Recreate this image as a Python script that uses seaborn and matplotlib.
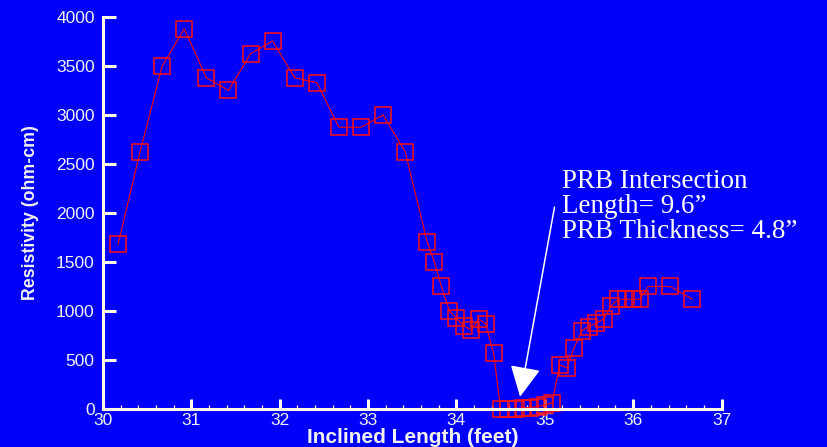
import numpy as np
import pandas as pd
import seaborn as sns
import matplotlib.pyplot as plt
from matplotlib.ticker import MultipleLocator

# Données
length_ft = [30.17, 30.42, 30.67, 30.92, 31.17, 31.42, 31.67, 31.92, 32.17, 32.42,
             32.67, 32.92, 33.17, 33.42, 33.67, 33.75, 33.83, 33.92, 34.00, 34.08,
             34.17, 34.25, 34.33, 34.42, 34.50, 34.58, 34.67, 34.75, 34.83, 34.92,
             35.00, 35.08, 35.17, 35.25, 35.33, 35.42, 35.50, 35.58, 35.67, 35.75,
             35.83, 35.92, 36.00, 36.08, 36.17, 36.42, 36.67]
resistivity = [1680, 2625, 3500, 3880, 3380, 3250, 3625, 3755, 3380, 3330,
               2875, 2875, 3000, 2625, 1700, 1500, 1250, 1000, 925, 850,
               805, 920, 870, 570, 5, 5, 5, 10, 15, 25,
               40, 60, 450, 420, 620, 800, 840, 875, 920, 1050,
               1120, 1120, 1120, 1120, 1250, 1250, 1120]

annot_text = "PRB Intersection\nLength= 9.6\u201d\nPRB Thickness= 4.8\u201d"

df = pd.DataFrame({'Length': length_ft, 'Resistivity': resistivity})

bg = '#0000fa'
axis_col = '#fffbe6'
txt_col = '#f2f2f2'

sns.set_theme(style='ticks')
plt.rcParams['font.family'] = ['Liberation Sans', 'DejaVu Sans']

fig = plt.figure(figsize=(8.28, 4.47), dpi=100, facecolor=bg)
ax = fig.add_axes([0.1244, 0.085, 0.747, 0.877])
ax.set_facecolor(bg)

sns.lineplot(data=df, x='Length', y='Resistivity', ax=ax, sort=False, estimator=None,
             color='#ff0000', linewidth=0.8, marker='s', markersize=11,
             markerfacecolor='none', markeredgecolor='#ff1010', markeredgewidth=1.1,
             clip_on=False)

ax.set_xlim(30, 37)
ax.set_ylim(0, 4000)
ax.xaxis.set_major_locator(MultipleLocator(1))
ax.xaxis.set_minor_locator(MultipleLocator(0.2))
ax.yaxis.set_major_locator(MultipleLocator(500))

for side in ['top', 'right']:
    ax.spines[side].set_visible(False)
for side in ['left', 'bottom']:
    ax.spines[side].set_color(axis_col)
    ax.spines[side].set_linewidth(2.2)
    ax.spines[side].set_zorder(3)

ax.tick_params(axis='y', which='major', direction='in', length=9.5, width=2.2,
               color=axis_col, labelcolor=txt_col, labelsize=12.5, pad=6)
ax.tick_params(axis='x', which='major', direction='in', length=7.5, width=2.2,
               color=axis_col, labelcolor=txt_col, labelsize=12.5, pad=3)
ax.tick_params(axis='x', which='minor', direction='in', length=3.2, width=0.9,
               color=axis_col)

ax.set_xlabel('Inclined Length (feet)', color=txt_col, fontsize=15, fontweight='bold',
              labelpad=0)
ax.set_ylabel('Resistivity (ohm-cm)', color=txt_col, fontsize=12.8, fontweight='bold',
              labelpad=12)

ax.annotate('', xy=(34.72, 125), xytext=(35.11, 2060),
            arrowprops=dict(arrowstyle='-|>,head_length=1.6,head_width=0.8',
                            color='white', lw=1.1, shrinkA=0, shrinkB=0))
ax.text(35.2, 1745, annot_text, color='white', fontsize=19.5,
        family=['Liberation Serif', 'DejaVu Serif'], ha='left', va='baseline',
        linespacing=1.0)

fig.savefig('out.png', dpi=100, facecolor=bg)
